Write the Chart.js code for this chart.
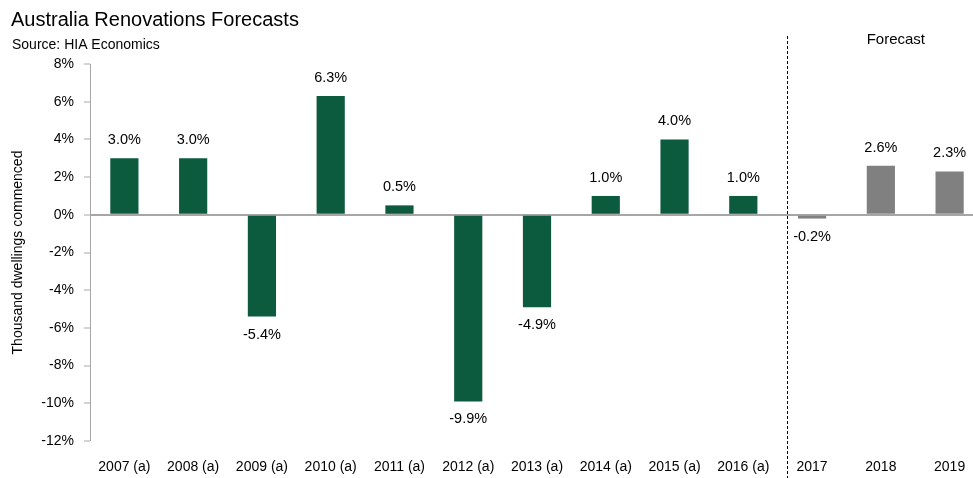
<!DOCTYPE html>
<html>
<head>
<meta charset="utf-8">
<script src="https://cdn.jsdelivr.net/npm/chart.js@4.4.0/dist/chart.umd.min.js"></script>
<style>
  html, body { margin: 0; padding: 0; background: #fff; overflow: hidden; }
  #wrap { width: 984px; height: 478px; }
</style>
</head>
<body>
<div id="wrap"><canvas id="grafico" width="984" height="478"></canvas></div>
<script>
var anos = ["2007 (a)", "2008 (a)", "2009 (a)", "2010 (a)", "2011 (a)", "2012 (a)", "2013 (a)", "2014 (a)", "2015 (a)", "2016 (a)", "2017", "2018", "2019"];
var variacao = [3.0, 3.0, -5.4, 6.3, 0.5, -9.9, -4.9, 1.0, 4.0, 1.0, -0.2, 2.6, 2.3];
var previsao = [false, false, false, false, false, false, false, false, false, false, true, true, true];
var ticksY = [8, 6, 4, 2, 0, -2, -4, -6, -8, -10, -12];

var fonte = "'Liberation Sans', Arial, sans-serif";
var verde = "#0d5b3e";
var cinza = "#808080";

var rotulos = {
	id: "rotulos",
	afterDatasetsDraw: function(chart) {
		var ctx = chart.ctx;
		var meta = chart.getDatasetMeta(0);
		ctx.save();
		ctx.font = "14.5px " + fonte;
		ctx.fillStyle = "#000";
		ctx.textAlign = "center";
		ctx.textBaseline = "middle";
		meta.data.forEach(function(bar, i) {
			var v = variacao[i];
			var y = v >= 0 ? bar.y - 18 : bar.y + 18;
			ctx.fillText(v.toFixed(1) + "%", bar.x, y);
		});
		ctx.restore();
	}
};

var extras = {
	id: "extras",
	afterDraw: function(chart) {
		var ctx = chart.ctx;
		var x = chart.scales.x;
		ctx.save();
		// titulo
		ctx.fillStyle = "#000";
		ctx.textAlign = "left";
		ctx.textBaseline = "alphabetic";
		ctx.font = "20px " + fonte;
		ctx.fillText("Australia Renovations Forecasts", 11, 26);
		ctx.font = "14px " + fonte;
		ctx.fillText("Source: HIA Economics", 12, 49);
		// linha tracejada
		var xl = (x.getPixelForValue(9) + x.getPixelForValue(10)) / 2 + 9;
		xl = Math.round(xl) + 0.5;
		ctx.strokeStyle = "#000";
		ctx.lineWidth = 1;
		ctx.setLineDash([3, 2]);
		ctx.beginPath();
		ctx.moveTo(xl, 36);
		ctx.lineTo(xl, chart.height);
		ctx.stroke();
		ctx.setLineDash([]);
		// previsao
		ctx.font = "15px " + fonte;
		ctx.textAlign = "center";
		ctx.fillText("Forecast", x.getPixelForValue(11) + 15, 44);
		ctx.restore();
	}
};

new Chart(document.getElementById("grafico"), {
	type: "bar",
	data: {
		labels: anos,
		datasets: [{
			data: variacao,
			backgroundColor: previsao.map(function(p) { return p ? cinza : verde; }),
			barPercentage: 0.41,
			categoryPercentage: 1.0
		}]
	},
	options: {
		responsive: false,
		animation: false,
		layout: { padding: { top: 64, right: 0, left: 0, bottom: 0 } },
		plugins: {
			legend: { display: false },
			tooltip: { enabled: false }
		},
		scales: {
			x: {
				grid: { display: false },
				border: { display: false },
				ticks: { color: "#000", font: { family: fonte, size: 14 }, padding: 10, maxRotation: 0, autoSkip: false },
				afterFit: function(s) { s.height = 37; }
			},
			y: {
				min: -12,
				max: 8,
				afterBuildTicks: function(s) { s.ticks = ticksY.map(function(v) { return { value: v }; }); },
				grid: {
					color: function(c) { return c.tick && c.tick.value === 0 ? "#a6a6a6" : "transparent"; },
					lineWidth: function(c) { return c.tick && c.tick.value === 0 ? 2 : 0; },
					tickColor: "#a6a6a6",
					tickWidth: 1,
					tickLength: 6,
					drawOnChartArea: true
				},
				border: { display: true, color: "#a6a6a6", width: 1 },
				ticks: {
					color: "#000",
					font: { family: fonte, size: 14 },
					padding: 10,
					callback: function(v) { return v + "%"; }
				},
				title: {
					display: true,
					text: "Thousand dwellings commenced",
					color: "#000",
					font: { family: fonte, size: 14 },
					padding: { top: 10, bottom: 0 }
				},
				afterFit: function(s) { s.width = 90; }
			}
		}
	},
	plugins: [rotulos, extras]
});
</script>
</body>
</html>
